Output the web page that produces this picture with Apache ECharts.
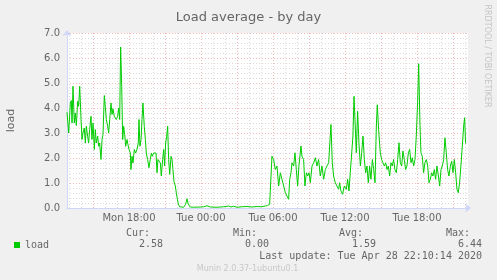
<!DOCTYPE html>
<html>
<head>
<meta charset="utf-8">
<script src="https://cdn.jsdelivr.net/npm/echarts@6/dist/echarts.min.js"></script>
<style>
html,body{margin:0;padding:0;background:#F0F0F0;}
#chart{width:497px;height:280px;}
</style>
</head>
<body>
<div id="chart"></div>
<script>
// hours relative to Mon 18:00
const timeHours = [
-5.17,-5.03,-4.89,-4.81,-4.75,-4.67,-4.56,-4.48,-4.39,-4.28,
-4.20,-4.11,-4.00,-3.92,-3.84,-3.73,-3.64,-3.56,-3.45,-3.37,
-3.28,-3.17,-3.09,-3.00,-2.89,-2.81,-2.73,-2.61,-2.53,-2.45,
-2.34,-2.25,-2.17,-2.06,-1.98,-1.89,-1.78,-1.70,-1.61,-1.50,
-1.42,-1.34,-1.23,-1.14,-1.06,-0.95,-0.86,-0.78,-0.70,-0.61,
-0.53,-0.45,-0.36,-0.28,-0.17,-0.09,0.00,0.11,0.16,0.25,
0.33,0.44,0.55,0.66,0.77,0.83,0.91,1.00,1.08,1.16,
1.27,1.36,1.44,1.55,1.66,1.77,1.86,1.94,2.05,2.16,
2.25,2.33,2.41,2.52,2.61,2.69,2.80,2.89,2.97,3.05,
3.14,3.22,3.30,3.39,3.50,3.58,3.66,3.75,3.86,3.94,
4.03,4.11,4.22,4.33,4.55,4.72,4.83,4.94,5.11,5.39,
5.94,6.22,6.50,6.77,7.33,7.89,8.31,8.50,8.72,9.00,
9.42,9.83,10.25,10.67,10.94,11.36,11.55,11.72,11.80,
11.91,12.05,12.19,12.33,12.47,12.61,12.75,12.89,13.03,13.16,
13.30,13.39,13.50,13.58,13.72,13.83,13.94,14.05,14.16,14.33,
14.41,14.55,14.66,14.78,14.89,15.00,15.11,15.25,15.39,15.53,
15.66,15.80,15.94,16.08,16.22,16.36,16.50,16.64,16.72,16.83,
16.94,17.05,17.19,17.33,17.47,17.55,17.66,17.80,17.94,18.11,
18.22,18.33,18.44,18.55,18.66,18.75,18.83,18.94,19.05,19.16,
19.28,19.39,19.50,19.61,19.72,19.83,19.94,20.05,20.16,20.28,
20.39,20.50,20.61,20.69,20.80,20.94,21.05,21.16,21.28,21.39,
21.50,21.61,21.72,21.83,21.94,22.05,22.16,22.28,22.39,22.50,
22.61,22.72,22.83,22.94,23.05,23.16,23.28,23.39,23.50,23.61,
23.72,23.83,23.94,24.05,24.14,24.25,24.33,24.44,24.55,24.66,
24.78,24.89,25.00,25.11,25.22,25.33,25.44,25.55,25.66,25.78,
25.89,26.00,26.11,26.22,26.33,26.44,26.55,26.66,26.78,26.89,
27.00,27.11,27.22,27.33,27.44,27.55,27.66,27.78,27.89,27.97,
28.05
];
const loadValues = [
3.83,3.0,4.2,4.3,3.4,4.87,3.4,3.8,3.3,4.27,
4.07,4.87,3.55,2.74,3.0,3.2,2.6,3.27,2.87,2.6,
3.14,3.67,2.74,3.4,2.34,3.14,2.6,2.87,2.47,2.6,
1.94,2.74,2.94,4.5,4.07,3.54,3.27,3.0,3.54,4.2,
3.74,3.97,3.67,3.74,3.54,3.67,4.0,3.54,6.44,4.87,
2.74,3.27,2.94,2.47,2.74,2.54,2.34,2.2,1.54,2.07,
1.8,2.34,2.2,2.34,2.6,3.54,2.47,2.74,3.54,4.2,
3.27,2.74,2.2,1.94,1.61,1.94,2.2,2.07,2.2,2.27,
2.2,1.41,1.94,1.87,1.8,1.28,1.94,2.34,1.68,2.6,
2.87,3.27,1.94,1.34,2.07,1.94,1.54,1.04,0.88,0.61,
0.35,0.15,0.05,0.03,0.03,0.15,0.37,0.15,0.04,0.03,
0.04,0.05,0.09,0.04,0.03,0.05,0.08,0.04,0.07,0.03,
0.05,0.06,0.04,0.06,0.05,0.08,0.1,0.15,0.2,
2.07,1.94,1.54,1.68,0.88,1.41,1.48,0.88,0.61,0.48,
0.35,1.15,1.41,1.81,1.68,2.21,1.54,0.88,1.68,2.48,
2.07,1.94,0.88,1.41,1.28,1.41,1.01,1.68,1.81,2.01,
1.68,1.94,1.28,1.68,1.15,1.54,1.68,1.81,2.48,3.34,
1.81,1.28,1.01,0.95,0.75,1.01,0.68,0.55,0.88,0.75,
1.15,0.68,1.41,1.48,2.88,4.47,3.54,2.21,3.87,2.61,
1.68,2.21,2.88,1.94,1.41,1.68,1.01,1.68,1.15,1.94,
1.54,1.01,3.28,4.13,3.14,2.21,1.94,1.81,1.68,1.81,
1.54,1.68,1.28,1.81,1.68,1.94,1.54,1.41,1.94,2.61,
1.81,1.68,2.28,1.94,1.54,1.68,2.21,2.34,1.81,2.01,
1.68,1.94,2.88,4.21,5.77,3.28,2.21,2.07,1.41,1.81,
1.94,1.68,1.01,1.15,1.41,1.28,1.54,1.15,1.68,1.28,
0.88,1.54,1.68,1.94,2.81,2.21,1.54,1.28,1.68,1.88,
1.41,1.94,1.41,0.75,0.61,1.01,1.68,1.68,3.28,3.61,
2.58
];
const xTickHours = [0, 6, 12, 18, 24];
const xTickLabels = ['Mon 18:00', 'Tue 00:00', 'Tue 06:00', 'Tue 12:00', 'Tue 18:00'];
const seriesName = 'load';
const statHeaders = ['Cur:', 'Min:', 'Avg:', 'Max:'];
const statValues = ['2.58', '0.00', '1.59', '6.44'];
const lastUpdate = 'Last update: Tue Apr 28 22:10:14 2020';
const titleText = 'Load average - by day';
const xMin = -5.17, xMax = 28.25;

const FONT = '#666666';
const MINOR = 'rgba(143,143,143,0.32)';
const MAJOR = 'rgba(224,80,80,0.40)';
const AXIS = '#CFD6F8';

const minorHours = [], majorHours = [];
for (let h = Math.ceil(xMin); h <= Math.floor(xMax); h++) {
  if (h % 3 === 0) majorHours.push(h); else minorHours.push(h);
}
const vLines = minorHours.map(h => ({xAxis: h, lineStyle: {color: MINOR, type: [1, 2], width: 1}}))
  .concat(majorHours.map(h => ({xAxis: h, lineStyle: {color: MAJOR, type: [1, 2], width: 1}})));

const seriesData = timeHours.map((h, i) => [h, loadValues[i]]);

const chart = echarts.init(document.getElementById('chart'), null, {renderer: 'canvas'});
const statHeaderX = [150, 257, 363, 470];
const statValueX = [163, 269, 376, 482];
const graphics = [];
const monoText = (t, x, y) => ({type: 'text', x: x, y: y,
  style: {text: t, fill: FONT, font: '10px "DejaVu Sans Mono"', align: 'right', textAlign: 'right', verticalAlign: 'middle', textVerticalAlign: 'middle'}});
statHeaders.forEach((t, i) => graphics.push(monoText(t, statHeaderX[i], 233)));
statValues.forEach((t, i) => graphics.push(monoText(t, statValueX[i], 244.5)));
graphics.push(monoText(lastUpdate, 482, 256.5));
graphics.push({type: 'text', x: 247.5, y: 269,
  style: {text: 'Munin 2.0.37-1ubuntu0.1', fill: '#C8C8C8', font: '8px "DejaVu Sans"', align: 'center', textAlign: 'center', verticalAlign: 'middle', textVerticalAlign: 'middle'}});
graphics.push({type: 'text', x: 487.5, y: 56, rotation: -Math.PI / 2,
  style: {text: 'RRDTOOL / TOBI OETIKER', fill: '#C4C4C4', font: '8px "DejaVu Sans"', align: 'center', textAlign: 'center', verticalAlign: 'middle', textVerticalAlign: 'middle'}});

chart.setOption({
  backgroundColor: '#F0F0F0',
  animation: false,
  title: {text: titleText, left: 'center', top: 6,
    textStyle: {fontFamily: 'DejaVu Sans', fontSize: 13, fontWeight: 'normal', color: FONT}},
  legend: {data: [seriesName], left: 14, top: 240, padding: 0, icon: 'rect', itemWidth: 6, itemHeight: 6,
    selectedMode: false, textStyle: {fontFamily: 'DejaVu Sans Mono', fontSize: 10, color: FONT}},
  grid: {left: 67, right: 29, top: 33, bottom: 72, show: true, backgroundColor: '#FFFFFF', borderWidth: 0,
    containLabel: false, outerBoundsMode: 'none'},
  xAxis: {
    type: 'value', min: xMin, max: xMax,
    axisLine: {show: true, onZero: false, lineStyle: {color: AXIS, width: 1}, symbol: ['none', 'arrow'], symbolSize: [7, 6], symbolOffset: [0, 3]},
    axisTick: {show: false},
    splitLine: {show: false},
    axisLabel: {customValues: xTickHours, margin: 5, color: FONT, fontFamily: 'DejaVu Sans', fontSize: 10,
      formatter: v => { const i = xTickHours.indexOf(v); return i >= 0 ? xTickLabels[i] : ''; }}
  },
  yAxis: {
    type: 'value', min: 0, max: 7, interval: 1,
    name: seriesName, nameLocation: 'middle', nameGap: 50,
    nameTextStyle: {color: FONT, fontFamily: 'DejaVu Sans', fontSize: 11},
    axisLine: {show: true, onZero: false, lineStyle: {color: AXIS, width: 1}, symbol: ['none', 'arrow'], symbolSize: [7, 6], symbolOffset: [0, 3]},
    axisTick: {show: false},
    axisLabel: {margin: 7, color: FONT, fontFamily: 'DejaVu Sans', fontSize: 10, formatter: v => v.toFixed(1)},
    splitLine: {show: true, lineStyle: {color: MAJOR, type: [1, 2], width: 1}},
    minorTick: {show: false, splitNumber: 5},
    minorSplitLine: {show: true, lineStyle: {color: MINOR, type: [1, 2], width: 1}}
  },
  graphic: graphics,
  series: [
    {name: 'grid', type: 'line', data: seriesData, silent: true, z: 1, showSymbol: false,
      lineStyle: {opacity: 0}, itemStyle: {opacity: 0},
      markLine: {silent: true, symbol: ['none', 'none'], label: {show: false}, animation: false, z: 1, data: vLines}},
    {name: seriesName, type: 'line', z: 3, showSymbol: false, silent: true,
      data: seriesData,
      lineStyle: {color: '#00CC00', width: 1}, itemStyle: {color: '#00CC00'}}
  ]
});
</script>
</body>
</html>
